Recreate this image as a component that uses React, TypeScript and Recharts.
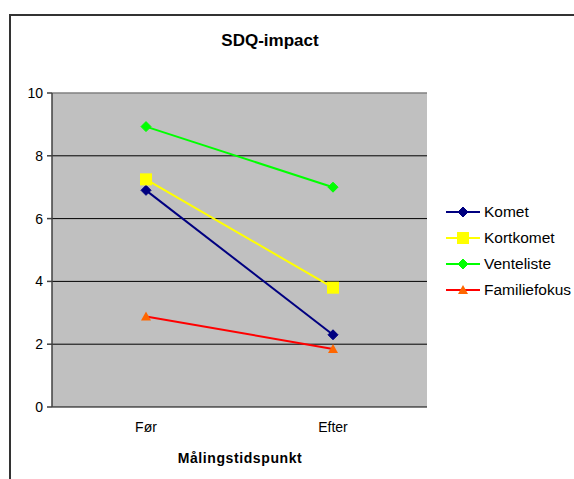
import React from 'react';
import { LineChart, Line, XAxis, YAxis, CartesianGrid, ReferenceLine } from 'recharts';

const categories = ['Før', 'Efter'];
const komet = [6.9, 2.3];
const kortkomet = [7.25, 3.8];
const venteliste = [8.93, 7.0];
const familiefokus = [2.88, 1.85];
const yTicks = [0, 2, 4, 6, 8, 10];

const FONT = '"Liberation Sans", Arial, sans-serif';

const data = categories.map((name, i) => ({
  name,
  Komet: komet[i],
  Kortkomet: kortkomet[i],
  Venteliste: venteliste[i],
  Familiefokus: familiefokus[i],
}));

const Diamond = ({ cx, cy, fill, r = 5 }: any) => (
  <polygon points={`${cx},${cy - r} ${cx + r},${cy} ${cx},${cy + r} ${cx - r},${cy}`} fill={fill} stroke={fill} />
);
const Square = ({ cx, cy, fill, r = 6 }: any) => (
  <rect x={cx - r} y={cy - r} width={r * 2} height={r * 2} fill={fill} />
);
const Triangle = ({ cx, cy, fill, r = 5 }: any) => (
  <polygon points={`${cx},${cy - r} ${cx + r},${cy + r - 1} ${cx - r},${cy + r - 1}`} fill={fill} />
);

const SERIES = [
  { key: 'Komet', stroke: '#000080', marker: 'diamond', fill: '#000080' },
  { key: 'Kortkomet', stroke: '#FFFF00', marker: 'square', fill: '#FFFF00' },
  { key: 'Venteliste', stroke: '#00FF00', marker: 'diamond', fill: '#00FF00' },
  { key: 'Familiefokus', stroke: '#FF0000', marker: 'triangle', fill: '#FF6600' },
];

const renderMarker = (marker: string, cx: number, cy: number, fill: string) => {
  if (marker === 'square') return <Square cx={cx} cy={cy} fill={fill} r={6} />;
  if (marker === 'triangle') return <Triangle cx={cx} cy={cy} fill={fill} r={5} />;
  return <Diamond cx={cx} cy={cy} fill={fill} r={5} />;
};

const LegendBox = () => (
  <div style={{ fontFamily: FONT, fontSize: 15.5, color: '#000' }}>
    {SERIES.map((s) => (
      <div key={s.key} style={{ display: 'flex', alignItems: 'center', height: 26 }}>
        <svg width={36} height={14} style={{ marginRight: 2 }}>
          <line x1={0} y1={7} x2={34} y2={7} stroke={s.stroke} strokeWidth={2} />
          {renderMarker(s.marker, 17, 7, s.fill)}
        </svg>
        <span>{s.key}</span>
      </div>
    ))}
  </div>
);

export default function App() {
  return (
    <div style={{ position: 'absolute', left: 0, top: 0, width: 574, height: 479, background: '#fff', overflow: 'hidden' }}>
      <div
        style={{
          position: 'absolute', left: 9, top: 14, width: 600, height: 500,
          borderLeft: '2px solid #333', borderTop: '2px solid #333',
        }}
      />
      <div
        style={{
          position: 'absolute', left: 170, top: 31, width: 200, textAlign: 'center',
          fontFamily: FONT, fontWeight: 'bold', fontSize: 17,
        }}
      >
        SDQ-impact
      </div>
      <div
        style={{
          position: 'absolute', left: 120, top: 450, width: 240, textAlign: 'center',
          fontFamily: FONT, fontWeight: 'bold', fontSize: 14, letterSpacing: 0.6,
        }}
      >
        Målingstidspunkt
      </div>
      <div style={{ position: 'absolute', left: 0, top: 0 }}>
        <LineChart width={574} height={479} data={data} margin={{ top: 93, right: 147, bottom: 0, left: 0 }}>
          <CartesianGrid fill="#C0C0C0" vertical={false} stroke="#000" horizontalValues={[2, 4, 6, 8]} />
          <ReferenceLine y={10} stroke="#808080" strokeWidth={1.5} />
          <XAxis
            dataKey="name"
            height={72}
            padding={{ left: 94, right: 94 }}
            stroke="#000"
            tickLine={false}
            tickMargin={9}
            tick={{ fill: '#000', fontSize: 14, fontFamily: FONT }}
          />
          <YAxis
            width={52}
            domain={[0, 10]}
            ticks={yTicks}
            stroke="#404040"
            strokeWidth={1.5}
            tickSize={5}
            tickMargin={4}
            tick={{ fill: '#000', fontSize: 14, fontFamily: FONT }}
          />
          <YAxis yAxisId="right" orientation="right" width={0} domain={[0, 10]} tick={false} tickLine={false} stroke="#808080" strokeWidth={1.5} />
          {SERIES.map((s) => (
            <Line
              key={s.key}
              type="linear"
              dataKey={s.key}
              stroke={s.stroke}
              strokeWidth={2}
              isAnimationActive={false}
              dot={(p: any) => <g key={`${s.key}-${p.index}`}>{renderMarker(s.marker, p.cx, p.cy, s.fill)}</g>}
              activeDot={false}
            />
          ))}
        </LineChart>
      </div>
      <div style={{ position: 'absolute', left: 446, top: 199 }}>
        <LegendBox />
      </div>
    </div>
  );
}
